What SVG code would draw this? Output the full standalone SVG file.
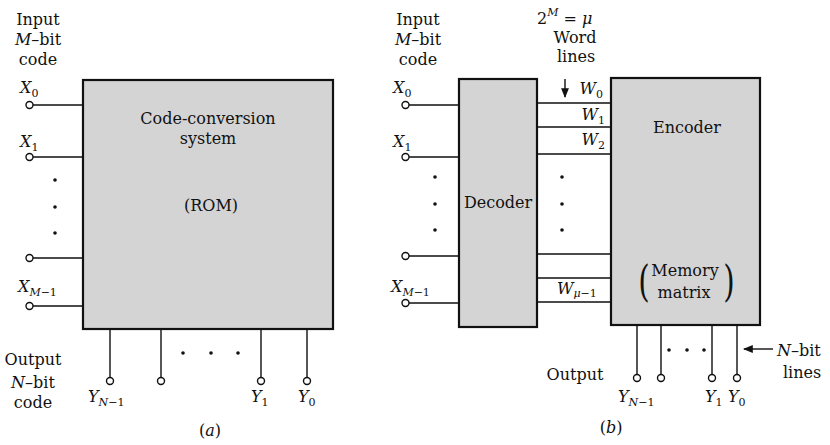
<svg xmlns="http://www.w3.org/2000/svg" width="830" height="445" viewBox="0 0 830 445">
<defs>
<style>
text{font-family:"DejaVu Serif","Liberation Serif",serif;font-size:16px;fill:#111}
.i{font-style:italic}
.s{font-size:11px}
.m{text-anchor:middle}
.e{text-anchor:end}
.par{font-size:42px;text-anchor:middle}
.box{fill:#d4d4d4;stroke:#111;stroke-width:2.2}
.ln{stroke:#111;stroke-width:1.4;fill:none}
.c{fill:#fff;stroke:#111;stroke-width:1.4}
.d{fill:#111}
</style>
<marker id="ah" viewBox="0 0 10 10" refX="9" refY="5" markerWidth="7" markerHeight="7" orient="auto-start-reverse">
<path d="M0,1 L10,5 L0,9 z" fill="#111"/>
</marker>
</defs>
<rect width="830" height="445" fill="#fff"/>

<!-- Panel (a) -->
<g id="a-labels">
<text x="38" y="25" class="m">Input</text>
<text x="38" y="45" class="m"><tspan class="i">M</tspan>–bit</text>
<text x="38" y="65" class="m">code</text>
<text x="33" y="365" class="m">Output</text>
<text x="33" y="388" class="m"><tspan class="i">N</tspan>–bit</text>
<text x="33" y="408" class="m">code</text>
<text x="210" y="436" class="m">(<tspan class="i">a</tspan>)</text>
</g>
<g id="rom">
<rect x="83" y="80" width="250" height="249" class="box"/>
<text x="208" y="124" class="m">Code-conversion</text>
<text x="208" y="144" class="m">system</text>
<text x="211" y="211" class="m">(ROM)</text>
</g>
<g id="a-inputs">
<text x="20" y="93" class="i">X<tspan class="s" dy="4" font-style="normal">0</tspan></text>
<text x="20" y="147" class="i">X<tspan class="s" dy="4" font-style="normal">1</tspan></text>
<text x="18" y="292" class="i">X<tspan class="s" dy="4">M</tspan><tspan class="s" font-style="normal">−1</tspan></text>
<circle cx="55" cy="180" r="1.8" class="d"/>
<circle cx="55" cy="207" r="1.8" class="d"/>
<circle cx="55" cy="233" r="1.8" class="d"/>
</g>
<g id="a-outputs">
<text x="88" y="402" class="i">Y<tspan class="s" dy="4">N</tspan><tspan class="s" font-style="normal">−1</tspan></text>
<text x="251" y="402" class="i">Y<tspan class="s" dy="4" font-style="normal">1</tspan></text>
<text x="298" y="402" class="i">Y<tspan class="s" dy="4" font-style="normal">0</tspan></text>
<circle cx="183" cy="353" r="1.8" class="d"/>
<circle cx="211" cy="353" r="1.8" class="d"/>
<circle cx="238" cy="353" r="1.8" class="d"/>
</g>

<!-- Panel (b) -->
<g id="b-labels">
<text x="418" y="25" class="m">Input</text>
<text x="418" y="45" class="m"><tspan class="i">M</tspan>–bit</text>
<text x="418" y="65" class="m">code</text>
<text x="537" y="24">2<tspan class="s i" dy="-8">M</tspan><tspan dy="8"> = </tspan><tspan class="i">μ</tspan></text>
<text x="575" y="43" class="m">Word</text>
<text x="576" y="62" class="m">lines</text>
<text x="575" y="380" class="m">Output</text>
<text x="611" y="433" class="m">(<tspan class="i">b</tspan>)</text>
<text x="777" y="356"><tspan class="i">N</tspan>–bit</text>
<text x="802" y="378" class="m">lines</text>
</g>
<g id="decoder">
<rect x="459" y="79" width="78" height="248" class="box"/>
<text x="498" y="208" class="m">Decoder</text>
</g>
<g id="encoder">
<rect x="611" y="78" width="149" height="247" class="box"/>
<text x="687" y="133" class="m">Encoder</text>
<text x="685" y="276" class="m">Memory</text>
<text x="684" y="298" class="m">matrix</text>
<text x="644" y="296" class="par" transform="translate(644 296) scale(0.7 1) translate(-644 -296)">(</text>
<text x="729" y="296" class="par" transform="translate(729 296) scale(0.7 1) translate(-729 -296)">)</text>
</g>
<g id="b-inputs">
<text x="393" y="93" class="i">X<tspan class="s" dy="4" font-style="normal">0</tspan></text>
<text x="393" y="147" class="i">X<tspan class="s" dy="4" font-style="normal">1</tspan></text>
<text x="391" y="292" class="i">X<tspan class="s" dy="4">M</tspan><tspan class="s" font-style="normal">−1</tspan></text>
<circle cx="435" cy="177" r="1.8" class="d"/>
<circle cx="435" cy="204" r="1.8" class="d"/>
<circle cx="435" cy="230" r="1.8" class="d"/>
</g>
<g id="word-lines">
<text x="603" y="94" class="i e">W<tspan class="s" dy="4" font-style="normal">0</tspan></text>
<text x="605" y="120" class="i e">W<tspan class="s" dy="4" font-style="normal">1</tspan></text>
<text x="605" y="145" class="i e">W<tspan class="s" dy="4" font-style="normal">2</tspan></text>
<text x="557" y="294" class="i">W<tspan class="s" dy="3">μ</tspan><tspan class="s" font-style="normal">−1</tspan></text>
<circle cx="562" cy="177" r="1.8" class="d"/>
<circle cx="562" cy="204" r="1.8" class="d"/>
<circle cx="562" cy="230" r="1.8" class="d"/>
</g>
<g id="b-outputs">
<text x="618" y="402" class="i">Y<tspan class="s" dy="4">N</tspan><tspan class="s" font-style="normal">−1</tspan></text>
<text x="705" y="402" class="i">Y<tspan class="s" dy="4" font-style="normal">1</tspan></text>
<text x="728" y="402" class="i">Y<tspan class="s" dy="4" font-style="normal">0</tspan></text>
<circle cx="669" cy="350" r="1.8" class="d"/>
<circle cx="687" cy="350" r="1.8" class="d"/>
<circle cx="704" cy="350" r="1.8" class="d"/>
</g>

<g id="connectors">
<!-- (a) inputs -->
<path class="ln" d="M33,105 H83 M33,157 H83 M33,258 H83 M33,306 H83"/>
<circle cx="29.5" cy="105" r="3.5" class="c"/>
<circle cx="29.5" cy="157" r="3.5" class="c"/>
<circle cx="29.5" cy="258" r="3.5" class="c"/>
<circle cx="29.5" cy="306" r="3.5" class="c"/>
<!-- (a) outputs -->
<path class="ln" d="M110,329 V377.5 M161,329 V377.5 M261,329 V377.5 M307,329 V377.5"/>
<circle cx="110" cy="381" r="3.5" class="c"/>
<circle cx="161" cy="381" r="3.5" class="c"/>
<circle cx="261" cy="381" r="3.5" class="c"/>
<circle cx="307" cy="381" r="3.5" class="c"/>
<!-- (b) inputs -->
<path class="ln" d="M409,105 H459 M409,157 H459 M409,256 H459 M409,303 H459"/>
<circle cx="405.5" cy="105" r="3.5" class="c"/>
<circle cx="405.5" cy="157" r="3.5" class="c"/>
<circle cx="405.5" cy="256" r="3.5" class="c"/>
<circle cx="405.5" cy="303" r="3.5" class="c"/>
<!-- word lines -->
<path class="ln" d="M537,103 H611 M537,127 H611 M537,154 H611 M537,254 H611 M537,278 H611 M537,302 H611"/>
<line x1="565" y1="79" x2="565" y2="97" class="ln" marker-end="url(#ah)"/>
<!-- (b) outputs -->
<path class="ln" d="M637,325 V374.5 M661,325 V374.5 M712,325 V374.5 M737,325 V374.5"/>
<circle cx="637" cy="378" r="3.5" class="c"/>
<circle cx="661" cy="378" r="3.5" class="c"/>
<circle cx="712" cy="378" r="3.5" class="c"/>
<circle cx="737" cy="378" r="3.5" class="c"/>
<line x1="773" y1="349" x2="744" y2="349" class="ln" marker-end="url(#ah)"/>
</g>
</svg>
